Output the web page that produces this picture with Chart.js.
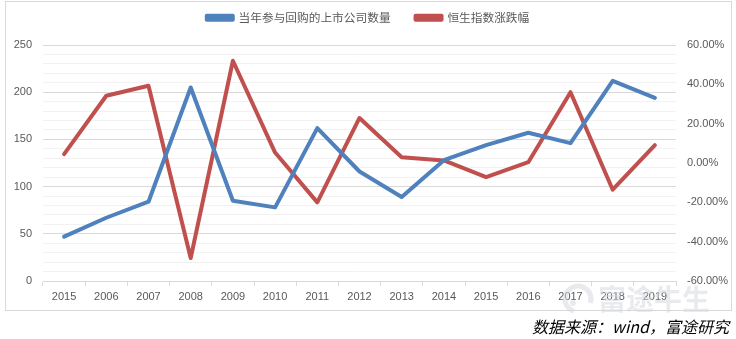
<!DOCTYPE html>
<html>
<head>
<meta charset="utf-8">
<script src="https://cdn.jsdelivr.net/npm/chart.js@4"></script>
<style>
  body { margin: 0; background: #fff; }
  #wrap { position: relative; width: 736px; height: 339px; }
  #frame { position: absolute; left: 5px; top: 1px; width: 725px; height: 308px; border: 1px solid #d9d9d9; }
  #chart { position: absolute; left: 0; top: 0; }
  #source { position: absolute; right: 7px; top: 316px; font: italic 16px "Noto Sans CJK SC", sans-serif; color: #000; line-height: 20px; }
</style>
</head>
<body>
<div id="wrap">
  <div id="frame"></div>
  <canvas id="chart" width="736" height="339"></canvas>
  <div id="source">数据来源：wind，富途研究</div>
</div>
<script>
// 年份（第一个标签原表即为 2015）
const years = ['2015', '2006', '2007', '2008', '2009', '2010', '2011', '2012', '2013', '2014', '2015', '2016', '2017', '2018', '2019'];
// 当年参与回购的上市公司数量
const buybackCompanies = [47, 67, 84, 205, 85, 78, 162, 116, 89, 128, 144, 157, 146, 212, 194];
// 恒生指数涨跌幅 (%)
const hsiChange = [4.5, 34.2, 39.3, -48.3, 52.0, 5.3, -20.0, 22.9, 2.9, 1.3, -7.2, 0.4, 36.0, -13.6, 9.1];

const blue = '#4f81bd';
const red = '#c0504d';
const tickColor = '#595959';
const tickFont = { family: '"Liberation Sans", "Noto Sans CJK SC", sans-serif', size: 11 };

// 图例：固定高度，整体上移
const legendBox = {
    id: 'legendBox',
    beforeLayout(chart) {
        const lg = chart.legend;
        if (lg && !lg._fixed) {
            lg._fixed = true;
            const fit = lg.fit;
            lg.fit = function () {
                fit.call(this);
                this.height = 45;
            };
        }
    },
    afterLayout(chart) {
        chart.legend.top = -13;
    }
};

// 水印
const watermark = {
    id: 'watermark',
    afterDraw(chart) {
        const ctx = chart.ctx;
        ctx.save();
        ctx.globalAlpha = 0.55;
        ctx.strokeStyle = '#d5d9df';
        ctx.fillStyle = '#d5d9df';
        ctx.lineWidth = 5;
        ctx.beginPath();
        ctx.arc(578, 299, 13, Math.PI * 0.6, Math.PI * 2.1);
        ctx.stroke();
        ctx.beginPath();
        ctx.arc(573, 303, 3, 0, Math.PI * 2);
        ctx.fill();
        ctx.font = 'bold 28px "Noto Sans CJK SC", sans-serif';
        ctx.textBaseline = 'middle';
        ctx.fillText('富途牛生', 598, 299);
        ctx.restore();
    }
};

const ctx = document.getElementById('chart').getContext('2d');
const chart = new Chart(ctx, {
    type: 'line',
    data: {
        labels: years,
        datasets: [
            {
                label: '当年参与回购的上市公司数量',
                data: buybackCompanies,
                borderColor: blue,
                backgroundColor: blue,
                borderWidth: 4,
                yAxisID: 'y',
            },
            {
                label: '恒生指数涨跌幅',
                data: hsiChange,
                borderColor: red,
                backgroundColor: red,
                borderWidth: 4,
                yAxisID: 'y1',
            }
        ]
    },
    options: {
        responsive: false,
        animation: false,
        layout: { padding: 0 },
        elements: {
            point: { radius: 0, hoverRadius: 0 },
            line: { tension: 0, borderJoinStyle: 'round', borderCapStyle: 'round' }
        },
        plugins: {
            legend: {
                position: 'top',
                labels: {
                    boxWidth: 26,
                    boxHeight: 4,
                    padding: 25,
                    color: tickColor,
                    font: { family: '"Noto Sans CJK SC", sans-serif', size: 11.7 }
                }
            },
            tooltip: { enabled: false }
        },
        scales: {
            x: {
                offset: true,
                grid: { display: true, drawOnChartArea: false, offset: true, tickLength: 5, color: '#d9d9d9' },
                border: { color: '#d9d9d9' },
                ticks: { color: tickColor, font: tickFont, padding: 4, maxRotation: 0, autoSkip: false },
                afterFit(scale) { scale.height = 58; }
            },
            y: {
                position: 'left',
                min: 0,
                max: 250,
                border: { display: false },
                grid: {
                    drawTicks: false,
                    color: (c) => (c.tick && c.tick.value % 50 === 0 ? '#d9d9d9' : '#f2f2f2')
                },
                ticks: {
                    stepSize: 10,
                    autoSkip: false,
                    padding: 11,
                    color: tickColor,
                    font: tickFont,
                    callback: (v) => (v % 50 === 0 ? v : '')
                },
                afterFit(scale) { scale.width = 43; }
            },
            y1: {
                position: 'right',
                min: -60,
                max: 60,
                border: { display: false },
                grid: { display: false, drawTicks: false },
                ticks: {
                    stepSize: 20,
                    padding: 11,
                    color: tickColor,
                    font: tickFont,
                    callback: (v) => v.toFixed(2) + '%'
                },
                afterFit(scale) { scale.width = 60; }
            }
        }
    },
    plugins: [legendBox, watermark]
});
</script>
</body>
</html>
